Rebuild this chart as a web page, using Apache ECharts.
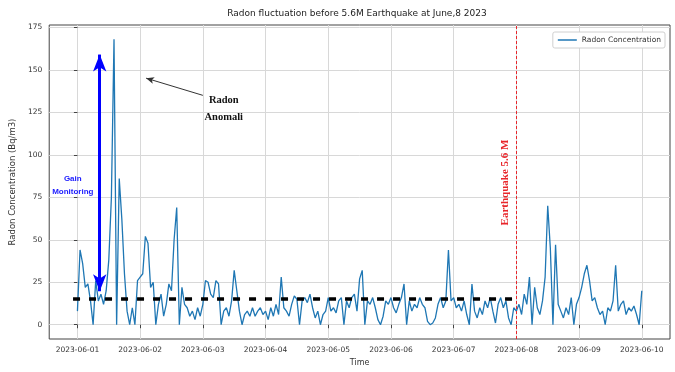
<!DOCTYPE html>
<html>
<head>
<meta charset="utf-8">
<script src="https://cdn.jsdelivr.net/npm/echarts@6/dist/echarts.min.js"></script>
<style>
html,body{margin:0;padding:0;background:#ffffff;}
#chart{width:675px;height:372px;}
</style>
</head>
<body>
<div id="chart"></div>
<script>
// ---------- DATA ----------
const chartTitle = 'Radon fluctuation before 5.6M Earthquake at June,8 2023';
const seriesName = 'Radon Concentration';
const xAxisName = 'Time';
const yAxisName = 'Radon Concentration (Bq/m3)';

// hourly readings, one array per day (00:00 ... 23:00)
const dayLabels = ['2023-06-01','2023-06-02','2023-06-03','2023-06-04','2023-06-05','2023-06-06','2023-06-07','2023-06-08','2023-06-09'];
const radonJun01 = [8,44,36,22,24,14,0,26,14,18,12,20,38,75,168,0,86,62,30,8,0,10,0,26];
const radonJun02 = [28,30,52,48,22,25,0,12,18,5,12,24,20,50,69,0,22,12,10,5,8,3,10,5];
const radonJun03 = [12,26,25,18,16,26,24,0,8,10,5,14,32,20,8,0,6,8,5,10,5,8,10,6];
const radonJun04 = [8,3,10,5,12,6,28,10,8,5,12,17,15,0,14,16,13,18,10,4,8,0,6,8];
const radonJun05 = [16,8,10,7,14,16,0,14,10,16,18,8,27,32,0,14,12,16,10,3,0,5,14,12];
const radonJun06 = [16,10,7,12,16,24,0,14,8,12,10,16,12,10,2,0,1,4,12,16,10,14,44,14];
const radonJun07 = [16,10,12,8,14,6,0,24,8,4,10,6,14,10,16,8,1,12,16,10,14,4,0,10];
const radonJun08 = [8,12,6,18,12,28,0,22,10,6,14,28,70,45,0,47,12,8,4,10,6,16,0,12];
const radonJun09 = [16,22,30,35,26,14,16,10,6,8,0,10,8,14,35,8,12,14,6,10,8,11,6,0];
const lastValue = 20;   // 2023-06-10 00:00

const xTickLabels = ['2023-06-01','2023-06-02','2023-06-03','2023-06-04','2023-06-05','2023-06-06','2023-06-07','2023-06-08','2023-06-09','2023-06-10'];
const yTickValues = [0,25,50,75,100,125,150,175];

// annotations (x in days after 2023-06-01, y in Bq/m3)
const baselineLevel = 15.4;
const baselineStartDays = -0.07;
const quakeDay = 7;                 // 2023-06-08
const quakeText = 'Earthquake 5.6 M';
const gainText = 'Gain\nMonitoring';
const gainArrowDays = 0.355;
const gainArrowTop = 159;
const gainArrowBottom = 19.7;
const gainTextPos = [-0.074, 82.2];
const anomalyText = 'Radon\nAnomali';
const anomalyTextPos = [2.334, 127.3];
const anomalyArrowTail = [2.0, 135];
const anomalyArrowTip = [1.095, 145.1];
const quakeTextPos = [6.824, 83.7];

// ---------- BUILD ----------
const dailyValues = [radonJun01,radonJun02,radonJun03,radonJun04,radonJun05,radonJun06,radonJun07,radonJun08,radonJun09];
const seriesData = [];
dailyValues.forEach((arr, d) => {
  arr.forEach((v, h) => seriesData.push([d + h / 24, v]));
});
seriesData.push([dayLabels.length, lastValue]);

const xTicks = xTickLabels.map((l, i) => i);

const tickFont = 'DejaVu Sans';
const txtColor = '#333';

const chart = echarts.init(document.getElementById('chart'), null, {renderer: 'canvas'});
chart.setOption({
  animation: false,
  backgroundColor: '#ffffff',
  title: {
    text: chartTitle,
    left: 357,
    textAlign: 'center',
    top: 9,
    padding: 0,
    textStyle: {fontFamily: tickFont, fontSize: 9, fontWeight: 'normal', color: '#222'}
  },
  legend: {
    data: [{name: seriesName, icon: 'rect'}],
    right: 10,
    top: 32,
    itemWidth: 19,
    itemHeight: 1.5,
    itemGap: 4,
    padding: [4, 4, 4, 5],
    backgroundColor: '#ffffff',
    borderColor: '#d0d0d0',
    borderWidth: 1,
    borderRadius: 2,
    textStyle: {fontFamily: tickFont, fontSize: 7.5, color: txtColor}
  },
  grid: {
    left: 44, right: 5, top: 25, bottom: 30,
    show: true, borderColor: '#444', borderWidth: 1, backgroundColor: 'transparent'
  },
  xAxis: {
    type: 'value',
    min: -0.45,
    max: 9.45,
    name: xAxisName,
    nameLocation: 'middle',
    nameGap: 20,
    nameTextStyle: {fontFamily: tickFont, fontSize: 8, color: txtColor},
    axisLine: {show: false},
    axisTick: {show: true, customValues: xTicks, length: 3.5, lineStyle: {color: '#444'}},
    axisLabel: {
      customValues: xTicks,
      formatter: v => xTickLabels[Math.round(v)] || '',
      fontFamily: tickFont, fontSize: 7.5, color: txtColor, margin: 7
    },
    splitLine: {show: true, lineStyle: {color: '#d8d8d8', width: 1}}
  },
  yAxis: {
    type: 'value',
    min: -8.4,
    max: 176.4,
    name: yAxisName,
    nameLocation: 'middle',
    nameRotate: 90,
    nameGap: 23,
    nameTextStyle: {fontFamily: tickFont, fontSize: 8.5, color: txtColor},
    axisLine: {show: false},
    axisTick: {show: true, customValues: yTickValues, length: 3.5, lineStyle: {color: '#444'}},
    axisLabel: {customValues: yTickValues, fontFamily: tickFont, fontSize: 7.5, color: txtColor, margin: 7},
    splitLine: {show: true, lineStyle: {color: '#d8d8d8', width: 1}}
  },
  series: [{
    name: seriesName,
    type: 'line',
    data: seriesData,
    showSymbol: false,
    symbol: 'none',
    lineStyle: {color: '#1f77b4', width: 1.3},
    itemStyle: {color: '#1f77b4'},
    z: 2,
    markLine: {
      silent: true,
      symbol: 'none',
      label: {show: false},
      emphasis: {disabled: true},
      data: [
        {xAxis: quakeDay, lineStyle: {color: '#e8262b', width: 1, type: [3, 2]}},
        [
          {coord: [baselineStartDays, baselineLevel], symbol: 'none'},
          {coord: [quakeDay, baselineLevel], symbol: 'none', lineStyle: {color: '#000', width: 3.5, type: [7, 9]}}
        ],
        [
          {coord: [gainArrowDays, gainArrowTop], symbol: 'arrow', symbolSize: [10, 17]},
          {coord: [gainArrowDays, gainArrowBottom], symbol: 'arrow', symbolSize: [10, 17], lineStyle: {color: '#0000ff', width: 3, type: 'solid'}}
        ],
        [
          {coord: anomalyArrowTail, symbol: 'none'},
          {coord: anomalyArrowTip, symbol: 'arrow', symbolSize: [5, 8], lineStyle: {color: '#333', width: 1, type: 'solid'}}
        ]
      ]
    },
    markPoint: {
      silent: true,
      symbol: 'rect',
      symbolSize: 1,
      itemStyle: {color: 'rgba(0,0,0,0)'},
      data: [
        {coord: gainTextPos,
          label: {show: true, position: 'inside', formatter: gainText, fontFamily: 'Liberation Sans', fontWeight: 'bold', fontSize: 8, lineHeight: 12.5, color: '#1a1aff', align: 'center'}},
        {coord: anomalyTextPos,
          label: {show: true, position: 'inside', formatter: anomalyText, fontFamily: 'Liberation Serif', fontWeight: 'bold', fontSize: 10.5, lineHeight: 17, color: '#111', align: 'center'}},
        {coord: quakeTextPos,
          label: {show: true, position: 'inside', rotate: 90, formatter: quakeText, fontFamily: 'Liberation Serif', fontWeight: 'bold', fontSize: 11, color: '#e8262b'}}
      ]
    }
  }]
});
</script>
</body>
</html>
